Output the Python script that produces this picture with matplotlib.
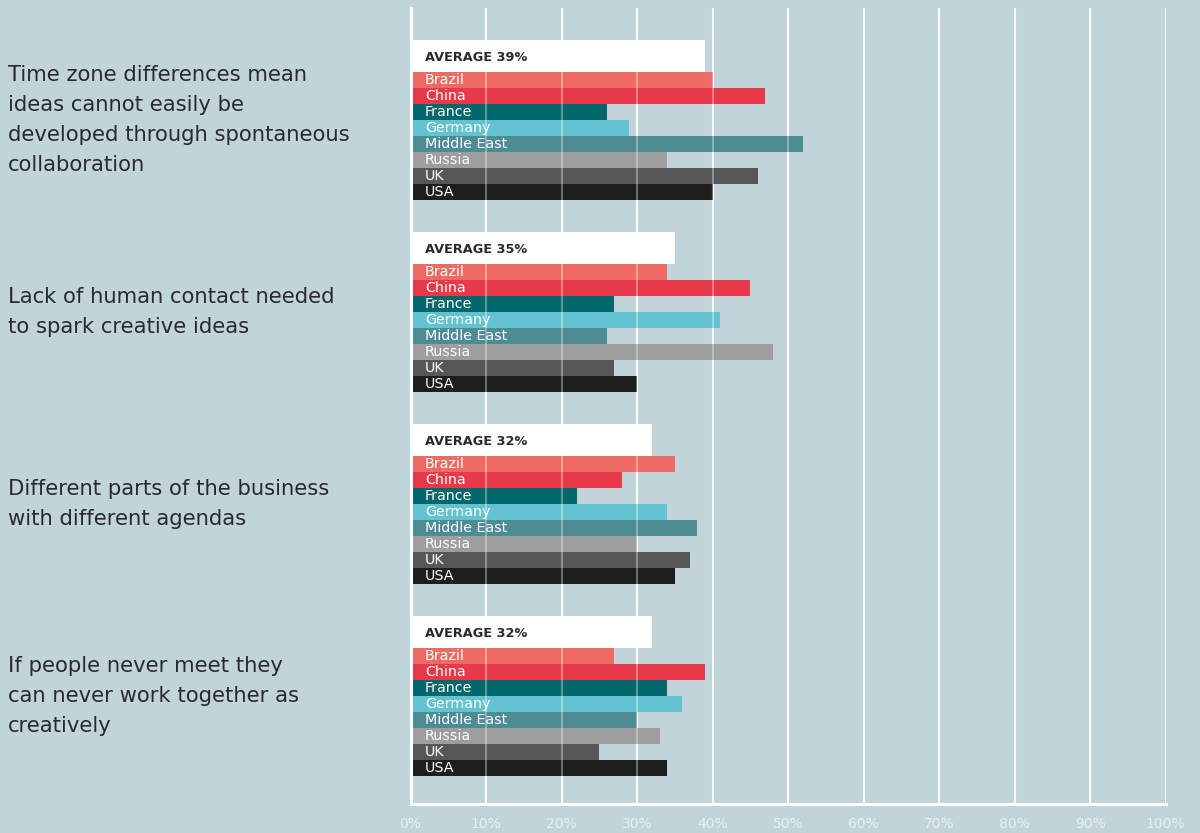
import matplotlib
matplotlib.use("Agg")
import matplotlib.pyplot as plt
from matplotlib.transforms import blended_transform_factory

# Survey statements (left-hand labels)
questions = [
    "Time zone differences mean\nideas cannot easily be\ndeveloped through spontaneous\ncollaboration",
    "Lack of human contact needed\nto spark creative ideas",
    "Different parts of the business\nwith different agendas",
    "If people never meet they\ncan never work together as\ncreatively",
]
averages = [39, 35, 32, 32]

countries = ["Brazil", "China", "France", "Germany", "Middle East", "Russia", "UK", "USA"]
country_colors = ["#ee6b63", "#e8394a", "#00686c", "#63c3d2",
                  "#4e8c94", "#9e9e9e", "#575757", "#1e1e1e"]

# Share agreeing (%), by country, one list per statement
time_zone = [40, 47, 26, 29, 52, 34, 46, 40]
human_contact = [34, 45, 27, 41, 26, 48, 27, 30]
agendas = [35, 28, 22, 34, 38, 30, 37, 35]
never_meet = [27, 39, 34, 36, 30, 33, 25, 34]
series = [time_zone, human_contact, agendas, never_meet]

ticks = list(range(0, 101, 10))
tick_labels = [f"{t}%" for t in ticks]

BG = "#c0d4da"
TEXT = "#2a2a2a"
FONT = "DejaVu Sans"

fig = plt.figure(figsize=(12, 8.33), dpi=100, facecolor=BG)
ax = fig.add_axes([410.5 / 1200, 1 - 804 / 833, 755 / 1200, 796 / 833])
ax.set_facecolor(BG)

group_step = 12      # rows per statement block
avg_h = 2.0          # height of the average box (in rows)

for spine in ("top", "right"):
    ax.spines[spine].set_visible(False)
for spine in ("left", "bottom"):
    ax.spines[spine].set_color("white")
    ax.spines[spine].set_linewidth(2.2)
    ax.spines[spine].set_zorder(6)

# white grid behind bars
for t in ticks[1:]:
    ax.axvline(t, color="white", lw=1.5, zorder=0)

label_tf = blended_transform_factory(fig.transFigure, ax.transData)

for g, (q, avg, vals) in enumerate(zip(questions, averages, series)):
    top = 2 + g * group_step
    # average box
    ax.barh(top + avg_h / 2, avg, height=avg_h, left=0, color="white",
            align="center", zorder=2)
    ax.text(1.9, top + avg_h / 2 + 0.12, f"AVERAGE {avg}%", ha="left", va="center",
            fontsize=9.3, fontweight="bold", color=TEXT, family=FONT, zorder=7)
    # country bars
    for i, (c, v, col) in enumerate(zip(countries, vals, country_colors)):
        yc = top + avg_h + i + 0.5
        ax.barh(yc, v, height=1.0, color=col, align="center", zorder=3, linewidth=0)
        ax.text(1.9, yc, c, ha="left", va="center", fontsize=10.3, color="white",
                family=FONT, zorder=7)
    # statement text
    block_center = top + (avg_h + len(countries)) / 2
    ax.text(8 / 1200, block_center, q, transform=label_tf, ha="left", va="center",
            fontsize=15.2, color=TEXT, family=FONT, linespacing=1.63, clip_on=False)

# faint grid lines over the bars
for t in ticks[1:]:
    ax.axvline(t, color="white", lw=1.5, alpha=0.35, zorder=5)

ax.set_xlim(0, 100)
ax.set_ylim(49.75, 0)
ax.set_yticks([])
ax.set_xticks(ticks)
ax.set_xticklabels(tick_labels, family=FONT, fontsize=10, color="#e9f0f2")
ax.tick_params(axis="x", length=0, pad=9)

fig.savefig("out.png", dpi=100, facecolor=BG)
